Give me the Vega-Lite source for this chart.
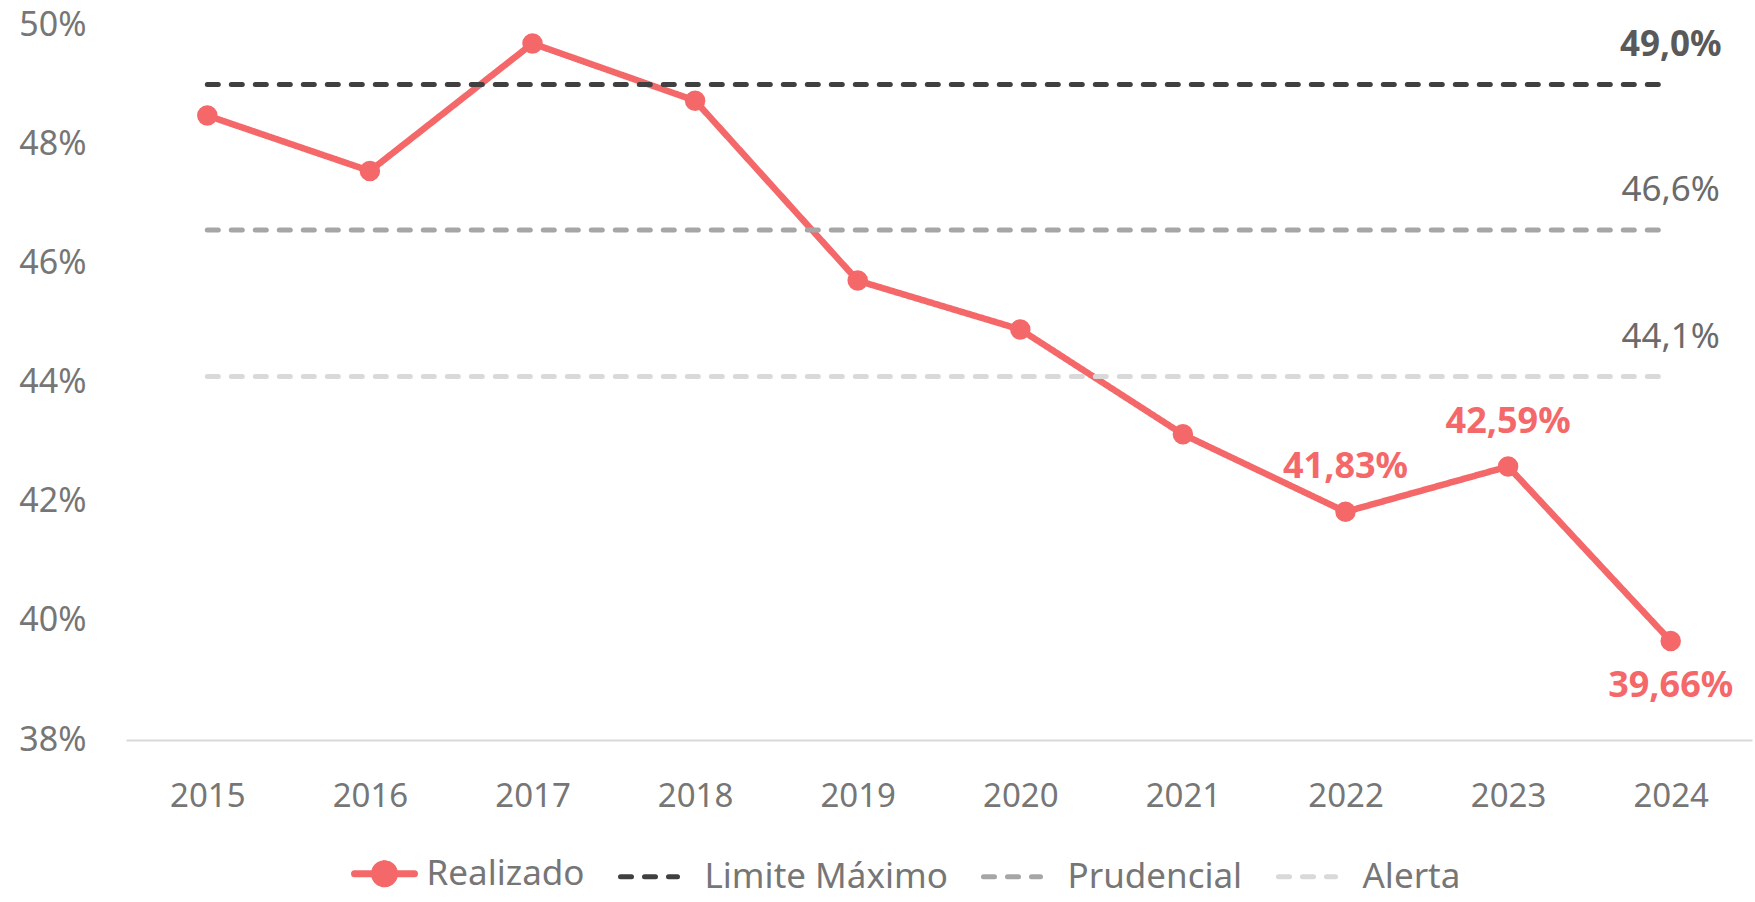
{
  "$schema": "https://vega.github.io/schema/vega-lite/v6.json",
  "width": 1626,
  "height": 715,
  "autosize": {"type": "none"},
  "padding": {"left": 126, "top": 25, "right": 3, "bottom": 162},
  "background": "white",
  "config": {
    "font": "Noto Sans",
    "view": {"stroke": null},
    "locale": {"number": {"decimal": ",", "thousands": ".", "grouping": [3], "currency": ["R$", ""]}}
  },
  "data": {
    "values": [
      {"ano": "2015", "serie": "Realizado", "valor": 0.4848},
      {"ano": "2016", "serie": "Realizado", "valor": 0.4755},
      {"ano": "2017", "serie": "Realizado", "valor": 0.4969},
      {"ano": "2018", "serie": "Realizado", "valor": 0.4873},
      {"ano": "2019", "serie": "Realizado", "valor": 0.4571},
      {"ano": "2020", "serie": "Realizado", "valor": 0.4489},
      {"ano": "2021", "serie": "Realizado", "valor": 0.4313},
      {"ano": "2022", "serie": "Realizado", "valor": 0.4183},
      {"ano": "2023", "serie": "Realizado", "valor": 0.4259},
      {"ano": "2024", "serie": "Realizado", "valor": 0.3966},
      {"ano": "2015", "serie": "Limite Máximo", "valor": 0.49},
      {"ano": "2016", "serie": "Limite Máximo", "valor": 0.49},
      {"ano": "2017", "serie": "Limite Máximo", "valor": 0.49},
      {"ano": "2018", "serie": "Limite Máximo", "valor": 0.49},
      {"ano": "2019", "serie": "Limite Máximo", "valor": 0.49},
      {"ano": "2020", "serie": "Limite Máximo", "valor": 0.49},
      {"ano": "2021", "serie": "Limite Máximo", "valor": 0.49},
      {"ano": "2022", "serie": "Limite Máximo", "valor": 0.49},
      {"ano": "2023", "serie": "Limite Máximo", "valor": 0.49},
      {"ano": "2024", "serie": "Limite Máximo", "valor": 0.49},
      {"ano": "2015", "serie": "Prudencial", "valor": 0.4656},
      {"ano": "2016", "serie": "Prudencial", "valor": 0.4656},
      {"ano": "2017", "serie": "Prudencial", "valor": 0.4656},
      {"ano": "2018", "serie": "Prudencial", "valor": 0.4656},
      {"ano": "2019", "serie": "Prudencial", "valor": 0.4656},
      {"ano": "2020", "serie": "Prudencial", "valor": 0.4656},
      {"ano": "2021", "serie": "Prudencial", "valor": 0.4656},
      {"ano": "2022", "serie": "Prudencial", "valor": 0.4656},
      {"ano": "2023", "serie": "Prudencial", "valor": 0.4656},
      {"ano": "2024", "serie": "Prudencial", "valor": 0.4656},
      {"ano": "2015", "serie": "Alerta", "valor": 0.441},
      {"ano": "2016", "serie": "Alerta", "valor": 0.441},
      {"ano": "2017", "serie": "Alerta", "valor": 0.441},
      {"ano": "2018", "serie": "Alerta", "valor": 0.441},
      {"ano": "2019", "serie": "Alerta", "valor": 0.441},
      {"ano": "2020", "serie": "Alerta", "valor": 0.441},
      {"ano": "2021", "serie": "Alerta", "valor": 0.441},
      {"ano": "2022", "serie": "Alerta", "valor": 0.441},
      {"ano": "2023", "serie": "Alerta", "valor": 0.441},
      {"ano": "2024", "serie": "Alerta", "valor": 0.441}
    ]
  },
  "encoding": {
    "x": {
      "field": "ano", "type": "ordinal",
      "scale": {"type": "point", "padding": 0.5},
      "axis": {"title": null, "labelAngle": 0, "ticks": false, "grid": false, "domainColor": "#D9D9D9", "domainWidth": 2, "labelFontSize": 33, "labelColor": "#767676", "labelPadding": 40}
    },
    "y": {
      "field": "valor", "type": "quantitative",
      "scale": {"domain": [0.38, 0.5], "nice": false, "zero": false},
      "axis": {"title": null, "values": [0.38, 0.40, 0.42, 0.44, 0.46, 0.48, 0.50], "format": ".0%", "grid": false, "domain": false, "ticks": false, "labelFontSize": 34, "labelColor": "#767676", "labelPadding": 40}
    }
  },
  "layer": [
    {
      "transform": [{"filter": "datum.serie === 'Realizado'"}],
      "mark": {"type": "line", "strokeWidth": 6.5, "strokeCap": "round", "strokeJoin": "round"},
      "encoding": {
        "color": {
          "field": "serie", "type": "nominal",
          "scale": {"domain": ["Realizado", "Limite Máximo", "Prudencial", "Alerta"], "range": ["#F4686A", "#404040", "#A6A6A6", "#D9D9D9"]},
          "legend": {
            "orient": "none", "legendX": 241, "legendY": 831, "direction": "horizontal", "title": null,
            "labelFontSize": 35, "labelColor": "#767676", "labelFont": "Noto Sans", "labelLimit": 500,
            "symbolSize": 7056, "symbolStrokeWidth": 5, "labelOffset": 24.5, "columnPadding": 25, "symbolType": "stroke",
            "encode": {
              "symbols": {
                "update": {
                  "shape": {"signal": "datum.value === 'Realizado' ? 'M-0.714,0L0.714,0M-0.238,0A0.238,0.238,0,1,1,0.238,0A0.238,0.238,0,1,1,-0.238,0Z' : 'M-1,0L0.357,0'"},
                  "fill": {"signal": "datum.value === 'Realizado' ? '#F4686A' : 'transparent'"},
                  "strokeWidth": {"signal": "datum.value === 'Realizado' ? 7 : 5"},
                  "strokeDash": {"signal": "datum.value === 'Realizado' ? [1, 0] : [12, 10.5]"},
                  "strokeCap": {"value": "round"}
                }
              }
            }
          }
        },
        "strokeDash": {
          "field": "serie", "type": "nominal",
          "scale": {"domain": ["Realizado", "Limite Máximo", "Prudencial", "Alerta"], "range": [[1, 0], [11, 13], [11, 13], [11, 13]]}
        }
      }
    },
    {
      "transform": [{"filter": "datum.serie !== 'Realizado'"}],
      "mark": {"type": "line", "strokeWidth": 5, "strokeCap": "round"},
      "encoding": {
        "color": {"field": "serie", "type": "nominal"},
        "strokeDash": {"field": "serie", "type": "nominal"}
      }
    },
    {
      "transform": [{"filter": "datum.serie === 'Realizado'"}],
      "mark": {"type": "point", "filled": true, "size": 420, "opacity": 1, "color": "#F4686A"}
    },
    {
      "transform": [{"filter": "datum.serie === 'Realizado' && (datum.ano === '2022' || datum.ano === '2023')"}],
      "mark": {"type": "text", "dy": -45, "fontSize": 36, "fontWeight": "bold", "color": "#F4686A"},
      "encoding": {"text": {"field": "valor", "type": "quantitative", "format": ".2%"}}
    },
    {
      "transform": [{"filter": "datum.serie === 'Realizado' && datum.ano === '2024'"}],
      "mark": {"type": "text", "dy": 45, "fontSize": 36, "fontWeight": "bold", "color": "#F4686A"},
      "encoding": {"text": {"field": "valor", "type": "quantitative", "format": ".2%"}}
    },
    {
      "transform": [{"filter": "datum.serie === 'Limite Máximo' && datum.ano === '2024'"}],
      "mark": {"type": "text", "dy": -40, "fontSize": 35, "fontWeight": "bold", "color": "#595959"},
      "encoding": {"text": {"field": "valor", "type": "quantitative", "format": ".1%"}}
    },
    {
      "transform": [{"filter": "(datum.serie === 'Prudencial' || datum.serie === 'Alerta') && datum.ano === '2024'"}],
      "mark": {"type": "text", "dy": -40, "fontSize": 35, "color": "#6B6B6B"},
      "encoding": {"text": {"field": "valor", "type": "quantitative", "format": ".1%"}}
    }
  ]
}
